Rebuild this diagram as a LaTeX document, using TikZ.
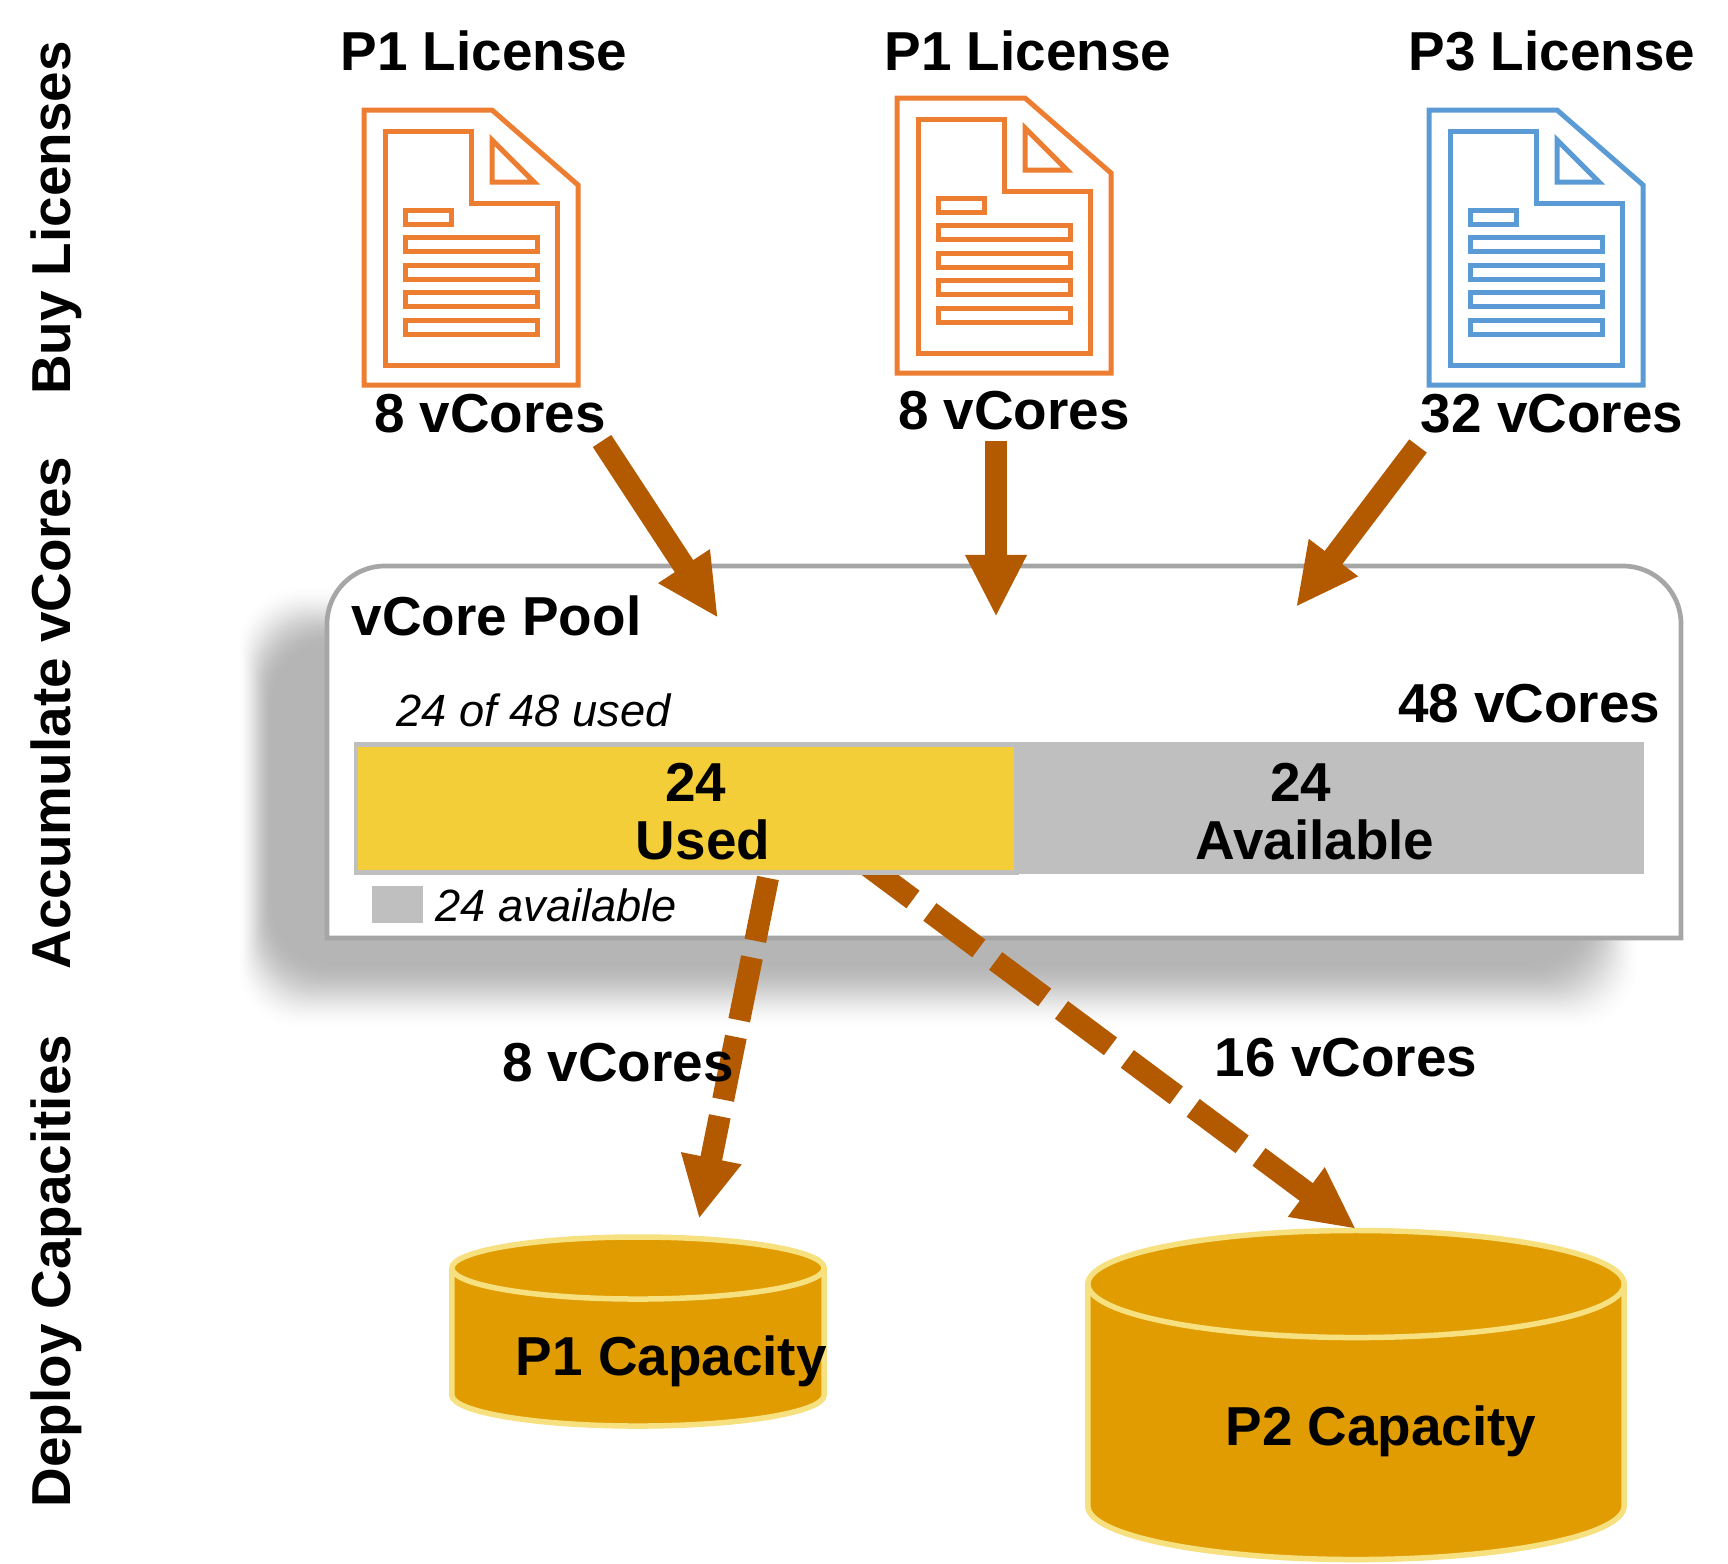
\documentclass[tikz,border=0pt]{standalone}
\usepackage{fontspec}
\setmainfont{Liberation Sans}
\usetikzlibrary{arrows.meta}
\definecolor{licorange}{HTML}{ED7D31}
\definecolor{licblue}{HTML}{5B9BD5}
\definecolor{flowbrown}{HTML}{B35A00}
\definecolor{usedyellow}{HTML}{F4CE38}
\definecolor{availgray}{HTML}{BFBFBF}
\definecolor{poolgray}{HTML}{A6A6A6}
\definecolor{diskfill}{HTML}{E09C00}
\definecolor{diskline}{HTML}{F7E07F}
\tikzset{
  bigtext/.style={font=\bfseries\fontsize{15.6}{16.5}\selectfont,align=center,inner sep=0pt},
  sidetext/.style={bigtext,rotate=90,anchor=base},
  smalltext/.style={font=\itshape\fontsize{12.85}{14}\selectfont,inner sep=0pt},
  flow/.style={draw=flowbrown,line width=0.22cm,-{Triangle[width=0.57cm,length=0.62cm]}},
  pics/licdoc/.style={code={
    \begin{scope}[draw=#1,line width=0.05cm]
      \draw (0,0) -- (128,0) -- (214,75) -- (214,275) -- (0,275) -- cycle;
      \draw (21,21) -- (107,21) -- (107,93) -- (193,93) -- (193,255) -- (21,255) -- cycle;
      \draw (128,30) -- (170,72) -- (128,72) -- cycle;
      \draw (41,100) rectangle (87,114);
      \foreach \y in {127,155,182,210}
        \draw (41,\y) rectangle (173,\y+14);
    \end{scope}
  }},
  pics/capdisk/.style n args={3}{code={
    \draw[draw=diskline,fill=diskfill,line width=0.055cm] (-#1cm,0) -- (-#1cm,#3)
      arc[start angle=180,end angle=360,x radius=#1cm,y radius=#2cm] -- (#1cm,0)
      arc[start angle=0,end angle=180,x radius=#1cm,y radius=#2cm] -- cycle;
    \draw[draw=diskline,line width=0.055cm] (-#1cm,0)
      arc[start angle=180,end angle=360,x radius=#1cm,y radius=#2cm];
  }}
}
\begin{document}
\begin{tikzpicture}[x=0.01cm,y=-0.01cm]
  \useasboundingbox (0,0) rectangle (1728,1563);

  % soft shadow under the pool
  \foreach \i [evaluate=\i as \k using {29*(3*(\i/35)^2-2*(\i/35)^3)}] in {0,...,35}
    \fill[black!\k,rounded corners=0.6cm]
      (237+1.03*\i,585+1.7*\i) rectangle (1640-1.63*\i,1030-1.91*\i);

  \draw[draw=poolgray,fill=white,line width=0.047cm] (327,938) -- (327,624)
    arc[start angle=180,end angle=90,radius=0.58cm] -- (1623,566)
    arc[start angle=90,end angle=0,radius=0.58cm] -- (1681,938) -- cycle;

  \pic at (364,110) {licdoc=licorange};
  \pic at (897,98) {licdoc=licorange};
  \pic at (1429,110) {licdoc=licblue};

  \pic at (638,1268) {capdisk={1.86}{0.31}{127}};
  \pic at (1356,1284) {capdisk={2.68}{0.535}{222}};

  \coordinate (a1) at (602,441);
  \coordinate (a2) at (996,441);
  \coordinate (a3) at (1418,446);
  \coordinate (a4) at (768,878);
  \coordinate (a5) at (864,863);
  \coordinate (t1) at (718,618);
  \coordinate (t2) at (996,617);
  \coordinate (t3) at (1296,607);
  \coordinate (t4) at (699,1219);
  \coordinate (t5) at (1356,1229);

  \draw[flow] (a1) -- (t1);
  \draw[flow] (a2) -- (t2);
  \draw[flow] (a3) -- (t3);
  \draw[flow,dash pattern=on 0.64cm off 0.17cm] (a4) -- (t4);
  \draw[flow,dash pattern=on 0.61cm off 0.21cm] (a5) -- (t5);

  % bar lies over the start of the dashed arrow
  \fill[availgray] (354,742) rectangle (1644,874);
  \fill[availgray] (354,742) rectangle (1019,875);
  \fill[usedyellow] (358,747) rectangle (1014,870);
  \fill[availgray] (372,886) rectangle (423,923);

  \node[sidetext] (buy) at (70,218) {Buy Licenses};
  \node[sidetext] (acc) at (70.5,713) {Accumulate vCores};
  \node[sidetext] (dep) at (70,1271) {Deploy Capacities};

  \node[bigtext] (p1a) at (484,51) {P1 License};
  \node[bigtext] (p1b) at (1028,51) {P1 License};
  \node[bigtext] (p3) at (1552,51) {P3 License};
  \node[bigtext] (c1) at (490,414) {8 vCores};
  \node[bigtext] (c2) at (1014,411) {8 vCores};
  \node[bigtext] (c3) at (1552,414) {32 vCores};

  \node[bigtext,anchor=west] (pool) at (351,616) {vCore Pool};
  \node[smalltext,anchor=west] (usedof) at (396,710) {24 of 48 used};
  \node[bigtext,anchor=east] (total) at (1661,704) {48 vCores};
  \node[bigtext] (used) at (703,812) {24\hspace*{4pt}\\Used};
  \node[bigtext] (avail) at (1315,812) {24\hspace*{8pt}\\Available};
  \node[smalltext,anchor=west] (availtxt) at (435,905) {24 available};

  \node[bigtext] (d1) at (618,1063) {8 vCores};
  \node[bigtext] (d2) at (1346,1058) {16 vCores};
  \node[bigtext,anchor=west] (p1cap) at (515,1361) {P1 Capacity};
  \node[bigtext] (p2cap) at (1381,1431) {P2 Capacity};
\end{tikzpicture}
\end{document}
